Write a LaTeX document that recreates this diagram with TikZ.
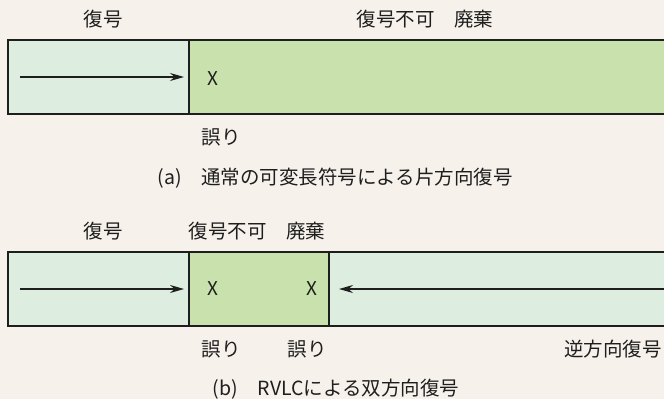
\documentclass[tikz,border=0pt]{standalone}
\usepackage{fontspec}
\setmainfont{Noto Sans CJK JP}
\usetikzlibrary{arrows.meta}
\definecolor{bg}{HTML}{F6F2EB}
\definecolor{okfill}{HTML}{DDEDE0}
\definecolor{badfill}{HTML}{C9E1AD}
\definecolor{ink}{HTML}{1E1E1E}
\tikzset{
  lbl/.style={font=\fontsize{19.5}{21}\selectfont, text=ink, inner sep=0pt},
  xmark/.style={font=\fontsize{19}{21}\selectfont, text=ink, inner sep=0pt},
  cell/.style={draw=ink, line width=1.4pt},
  flow/.style={draw=ink, line width=1.2pt, -{Stealth[length=14pt,width=8pt]}},
}
\begin{document}
\begin{tikzpicture}[x=1pt,y=-1pt]
\fill[bg] (0,0) rectangle (664,399);
\useasboundingbox (0,0) rectangle (664,399);
% (a)
\filldraw[cell, fill=okfill] (8,40) rectangle (189,114);
\fill[badfill] (189,40) rectangle (670,114);
\draw[cell] (189,40) -- (670,40) (189,114) -- (670,114) (189,40) -- (189,114);
\node[lbl] (a1) at (103,19) {復号};
\node[lbl] (a2) at (425,19) {復号不可　廃棄};
\node[xmark] (ax) at (213,79) {X};
\node[lbl] (ae) at (221,137) {誤り};
\node[lbl] (acap) at (335,178) {(a)　通常の可変長符号による片方向復号};
\coordinate (as) at (20,77);
\coordinate (ae2) at (184,77);
\draw[flow] (as) -- (ae2);
% (b)
\filldraw[cell, fill=okfill] (8,252) rectangle (189,326);
\filldraw[cell, fill=badfill] (189,252) rectangle (329,326);
\fill[okfill] (329,252) rectangle (670,326);
\draw[cell] (329,252) -- (670,252) (329,326) -- (670,326) (329,252) -- (329,326);
\node[lbl] (b1) at (103,231) {復号};
\node[lbl] (b2) at (257,231) {復号不可　廃棄};
\node[xmark] (bx1) at (213,289) {X};
\node[xmark] (bx2) at (312,289) {X};
\node[lbl] (be1) at (221,349) {誤り};
\node[lbl] (be2) at (307,349) {誤り};
\node[lbl] (br) at (613,349) {逆方向復号};
\node[lbl] (bcap) at (336,389) {(b)　RVLCによる双方向復号};
\coordinate (bs) at (20,289);
\coordinate (bt) at (184,289);
\coordinate (cs) at (670,289);
\coordinate (ct) at (339,289);
\draw[flow] (bs) -- (bt);
\draw[flow] (cs) -- (ct);
\end{tikzpicture}
\end{document}
